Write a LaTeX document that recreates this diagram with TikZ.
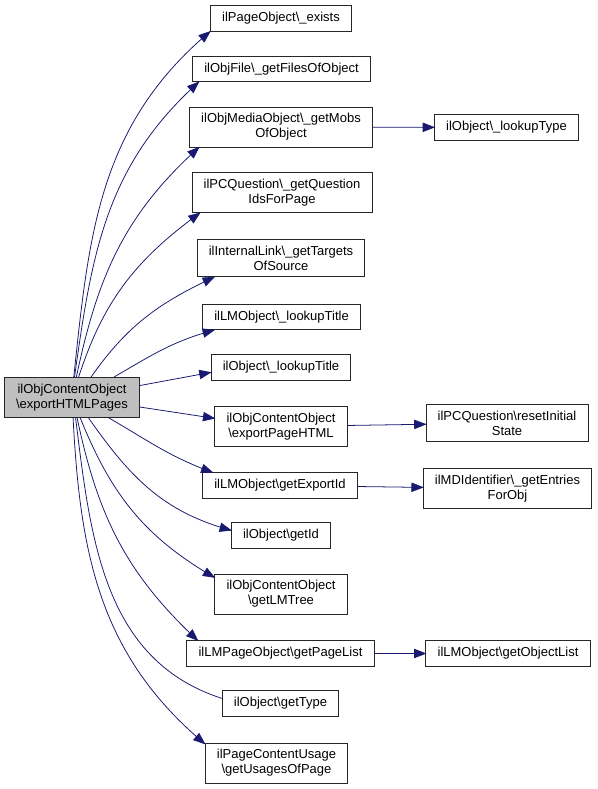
\documentclass[tikz,border=0pt]{standalone}
\usepackage{fontspec}
\setmainfont{Liberation Sans}
\usetikzlibrary{decorations.markings}
\definecolor{edgeblue}{HTML}{191970}
\definecolor{rootgray}{HTML}{BFBFBF}
\newcommand{\bsl}{\textbackslash}
\tikzset{
  fn/.style={draw=black!85, fill=white, line width=0.7pt, align=center,
    font=\fontsize{10}{11.5}\selectfont, inner xsep=9pt, inner ysep=5pt,
    minimum height=19.5pt},
  rootfn/.style={fn, fill=rootgray},
  tiphead/.style={decoration={markings, mark=at position 1 with
    {\filldraw[edgeblue, line width=0.5pt] (0pt,0pt) -- (-8.5pt,3.3pt) -- (-8.5pt,-3.3pt) -- cycle;}},
    postaction={decorate}},
  call/.style={draw=edgeblue, line width=0.6pt, tiphead}
}
\begin{document}
\begin{tikzpicture}[x=0.77pt, y=-0.77pt, every edge/.append style={call}]
  \useasboundingbox (0,0) rectangle (597,789);
  \node[rootfn] at (72,397.5) (root) {ilObjContentObject\\\bsl exportHTMLPages};
  % called functions
  \node[fn] at (281,18.5) (exists) {ilPageObject\bsl\_exists};
  \node[fn] at (281.5,69) (files) {ilObjFile\bsl\_getFilesOfObject};
  \node[fn] at (281,127) (mobs) {ilObjMediaObject\bsl\_getMobs\\OfObject};
  \node[fn] at (282,192.5) (qids) {ilPCQuestion\bsl\_getQuestion\\IdsForPage};
  \node[fn] at (281,258) (targets) {ilInternalLink\bsl\_getTargets\\OfSource};
  \node[fn] at (281.5,317) (lmtitle) {ilLMObject\bsl\_lookupTitle};
  \node[fn] at (281,367.5) (objtitle) {ilObject\bsl\_lookupTitle};
  \node[fn] at (281,426.5) (pagehtml) {ilObjContentObject\\\bsl exportPageHTML};
  \node[fn] at (280,485.5) (exportid) {ilLMObject\bsl getExportId};
  \node[fn] at (281,535.5) (getid) {ilObject\bsl getId};
  \node[fn] at (281,594) (lmtree) {ilObjContentObject\\\bsl getLMTree};
  \node[fn] at (280.5,653.5) (pagelist) {ilLMPageObject\bsl getPageList};
  \node[fn] at (280.5,703.5) (gettype) {ilObject\bsl getType};
  \node[fn] at (276.5,763) (usages) {ilPageContentUsage\\\bsl getUsagesOfPage};
  % second level
  \node[fn] at (506.5,127.5) (lookuptype) {ilObject\bsl\_lookupType};
  \node[fn] at (507,423) (resetstate) {ilPCQuestion\bsl resetInitial\\State};
  \node[fn] at (507.5,488.5) (mdentries) {ilMDIdentifier\bsl\_getEntries\\ForObj};
  \node[fn] at (508,653.5) (objlist) {ilLMObject\bsl getObjectList};

  \path
    (root.85) edge [out=84, in=220] (exists.south west)
    (root.83) edge [out=82, in=222] (files.189)
    (root.78) edge [out=78, in=222] (mobs.194)
    (root.72) edge [out=72, in=216] (qids.194)
    (root.47) edge [out=55, in=205] (targets.196)
    (root.26) edge [out=30, in=195] (lmtitle.191)
    (root.10) edge (objtitle.184)
    (root.352) edge (pagehtml.173)
    (root.331) edge [out=-30, in=160] (exportid.169)
    (root.309) edge [out=-55, in=165] (getid.174)
    (root.292) edge [out=-68, in=150] (lmtree.166)
    (root.284) edge [out=-78, in=137] (pagelist.171)
    (root.280) edge [out=-83, in=162] (gettype.175)
    (root.273) edge [out=-87, in=140] (usages.165)
    (mobs) edge (lookuptype)
    (pagehtml) edge (resetstate)
    (exportid) edge (mdentries)
    (pagelist) edge (objlist);
\end{tikzpicture}
\end{document}
